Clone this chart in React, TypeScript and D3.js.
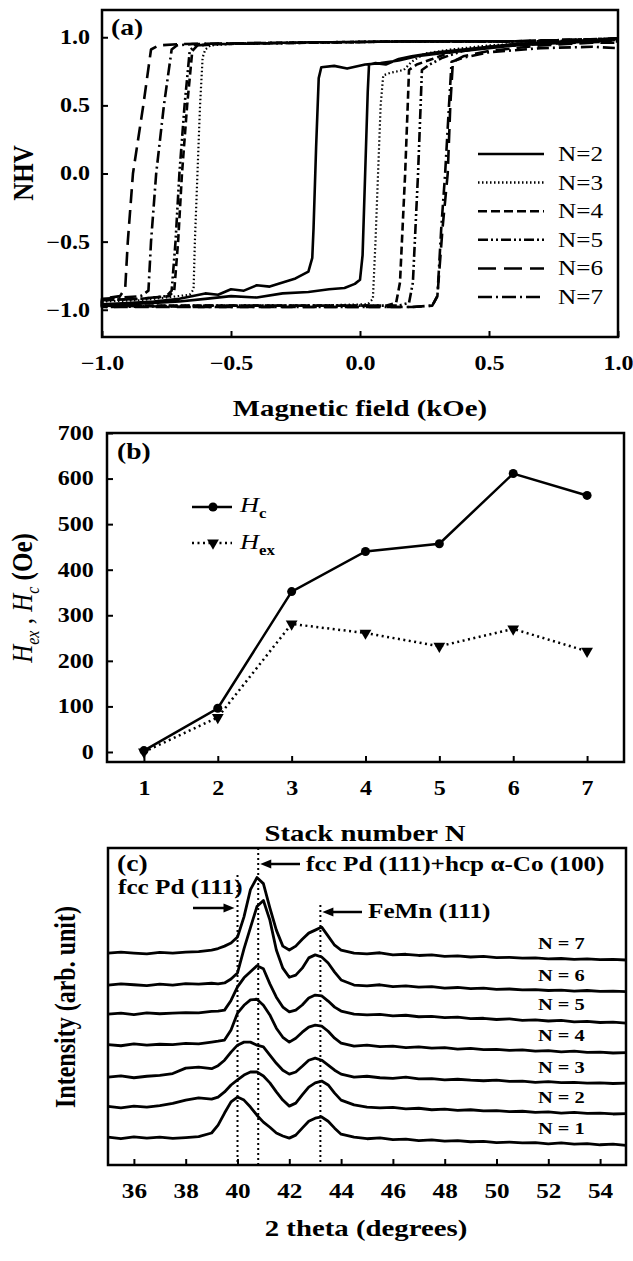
import React, { useEffect, useRef } from 'react';
import * as d3 from 'd3';

// (a) hysteresis loops, points are [field (kOe), NHV]; down = field sweeping 1 -> -1, up = -1 -> 1
const loopNames = ['N=2', 'N=3', 'N=4', 'N=5', 'N=6', 'N=7'];
const loopN2Down = [[1.0, 0.99], [0.9, 0.97], [0.8, 0.96], [0.7, 0.95], [0.6, 0.94], [0.5, 0.92], [0.4, 0.9], [0.3, 0.88], [0.22, 0.86], [0.15, 0.83], [0.08, 0.81], [0.02, 0.8], [-0.05, 0.77], [-0.1, 0.79], [-0.15, 0.78], [-0.16, 0.7], [-0.17, 0.2], [-0.18, -0.4], [-0.185, -0.62], [-0.2, -0.72], [-0.25, -0.77], [-0.3, -0.8], [-0.35, -0.83], [-0.4, -0.82], [-0.45, -0.86], [-0.5, -0.85], [-0.55, -0.89], [-0.6, -0.88], [-0.7, -0.92], [-0.8, -0.94], [-0.9, -0.95], [-1.0, -0.96]];
const loopN2Up = [[-1.0, -0.97], [-0.9, -0.96], [-0.8, -0.95], [-0.7, -0.94], [-0.6, -0.92], [-0.5, -0.9], [-0.4, -0.91], [-0.3, -0.88], [-0.2, -0.87], [-0.12, -0.85], [-0.06, -0.84], [-0.02, -0.81], [0.0, -0.78], [0.01, -0.6], [0.02, 0.0], [0.03, 0.6], [0.035, 0.8], [0.06, 0.81], [0.1, 0.8], [0.15, 0.84], [0.2, 0.86], [0.3, 0.89], [0.4, 0.91], [0.5, 0.93], [0.6, 0.95], [0.8, 0.97], [1.0, 0.99]];
const loopN3Down = [[1.0, 0.98], [0.6, 0.97], [0.2, 0.97], [-0.2, 0.96], [-0.5, 0.95], [-0.58, 0.94], [-0.6, 0.91], [-0.61, 0.85], [-0.62, 0.5], [-0.63, 0.0], [-0.64, -0.5], [-0.645, -0.85], [-0.66, -0.89], [-0.75, -0.91], [-0.85, -0.93], [-1.0, -0.94]];
const loopN3Up = [[-1.0, -0.97], [-0.6, -0.97], [-0.2, -0.97], [0.03, -0.96], [0.05, -0.92], [0.06, -0.5], [0.07, 0.0], [0.08, 0.5], [0.09, 0.72], [0.12, 0.74], [0.17, 0.76], [0.2, 0.82], [0.25, 0.88], [0.35, 0.91], [0.5, 0.94], [0.7, 0.96], [1.0, 0.98]];
const loopN4Down = [[1.0, 0.99], [0.6, 0.97], [0.2, 0.97], [-0.2, 0.96], [-0.55, 0.95], [-0.63, 0.94], [-0.65, 0.9], [-0.67, 0.5], [-0.69, 0.0], [-0.705, -0.5], [-0.72, -0.86], [-0.74, -0.9], [-0.85, -0.92], [-1.0, -0.93]];
const loopN4Up = [[-1.0, -0.97], [-0.6, -0.97], [-0.2, -0.97], [0.1, -0.97], [0.14, -0.95], [0.155, -0.8], [0.165, -0.4], [0.175, 0.0], [0.185, 0.5], [0.19, 0.76], [0.22, 0.8], [0.28, 0.84], [0.35, 0.89], [0.5, 0.93], [0.7, 0.95], [1.0, 0.97]];
const loopN5Down = [[1.0, 0.99], [0.6, 0.97], [0.2, 0.97], [-0.2, 0.96], [-0.55, 0.95], [-0.64, 0.94], [-0.66, 0.9], [-0.68, 0.5], [-0.7, 0.0], [-0.715, -0.5], [-0.73, -0.86], [-0.75, -0.9], [-0.85, -0.92], [-1.0, -0.93]];
const loopN5Up = [[-1.0, -0.98], [-0.6, -0.97], [-0.2, -0.97], [0.15, -0.97], [0.19, -0.95], [0.205, -0.8], [0.215, -0.4], [0.225, 0.0], [0.235, 0.5], [0.24, 0.76], [0.27, 0.8], [0.32, 0.85], [0.4, 0.9], [0.55, 0.94], [0.75, 0.96], [1.0, 0.98]];
const loopN6Down = [[1.0, 0.99], [0.6, 0.97], [0.2, 0.97], [-0.3, 0.96], [-0.7, 0.95], [-0.78, 0.94], [-0.81, 0.91], [-0.84, 0.5], [-0.88, 0.0], [-0.9, -0.5], [-0.91, -0.84], [-0.93, -0.9], [-1.0, -0.92]];
const loopN6Up = [[-1.0, -0.98], [-0.6, -0.98], [-0.2, -0.98], [0.2, -0.98], [0.28, -0.97], [0.3, -0.9], [0.32, -0.4], [0.34, 0.0], [0.35, 0.5], [0.36, 0.82], [0.4, 0.86], [0.5, 0.9], [0.7, 0.94], [0.9, 0.96], [1.0, 0.96]];
const loopN7Down = [[1.0, 0.99], [0.6, 0.97], [0.2, 0.97], [-0.3, 0.96], [-0.65, 0.95], [-0.71, 0.94], [-0.73, 0.91], [-0.76, 0.5], [-0.79, 0.0], [-0.81, -0.5], [-0.82, -0.86], [-0.85, -0.9], [-1.0, -0.92]];
const loopN7Up = [[-1.0, -0.97], [-0.6, -0.98], [-0.2, -0.98], [0.2, -0.98], [0.28, -0.97], [0.3, -0.9], [0.315, -0.4], [0.33, 0.0], [0.345, 0.5], [0.355, 0.82], [0.4, 0.85], [0.5, 0.89], [0.7, 0.92], [0.9, 0.93], [1.0, 0.92]];
const fieldTicks = [-1, -0.5, 0, 0.5, 1];
const nhvTicks = [-1, -0.5, 0, 0.5, 1];

// (b) coercivity and exchange bias vs stack number
const stackN = [1, 2, 3, 4, 5, 6, 7];
const hcValues = [3, 96, 352, 440, 457, 611, 563];
const hexValues = [0, 76, 281, 261, 232, 270, 221];
const oeTicks = [0, 100, 200, 300, 400, 500, 600, 700];

// (c) XRD scans, intensity above each trace's own baseline (arb. unit)
const twoTheta = [35, 35.5, 36, 36.5, 37, 37.5, 38, 38.5, 39, 39.25, 39.5, 39.75, 40, 40.25, 40.5, 40.75, 41, 41.25, 41.5, 41.75, 42, 42.25, 42.5, 42.75, 43, 43.25, 43.5, 43.75, 44, 44.5, 45, 45.5, 46, 46.5, 47, 47.5, 48, 48.5, 49, 49.5, 50, 50.5, 51, 51.5, 52, 52.5, 53, 53.5, 54, 54.5, 55];
const xrdNames = ['N = 1', 'N = 2', 'N = 3', 'N = 4', 'N = 5', 'N = 6', 'N = 7'];
const xrdOffsets = [8.9, 19.2, 29.1, 39.7, 50.0, 59.6, 70.2];
const xrdN1 = [0.3, -0.2, 0.4, 0.0, 0.3, -0.1, 0.2, 0.5, 1.7, 4.3, 8.3, 12.0, 13.6, 12.6, 10.3, 7.6, 5.3, 3.6, 1.7, 0.7, 0.0, 1.0, 3.3, 5.6, 6.6, 7.0, 5.6, 3.3, 1.3, 0.3, -0.2, 0.1, -0.5, -0.3, -0.8, -0.6, -1.0, -0.8, -1.2, -1.1, -1.5, -1.3, -1.6, -1.5, -1.9, -1.6, -2.0, -1.8, -2.2, -2.0, -2.4];
const xrdN2 = [0.2, -0.3, 0.3, 0.0, 0.5, 1.2, 2.3, 3.0, 2.6, 3.3, 5.0, 7.3, 9.0, 10.6, 11.6, 11.6, 10.3, 8.0, 5.0, 2.3, 0.3, 1.3, 4.0, 6.6, 8.0, 8.6, 7.3, 4.6, 2.3, 0.7, 0.0, -0.3, -0.1, -0.6, -0.4, -0.9, -0.7, -1.1, -0.9, -1.3, -1.2, -1.5, -1.4, -1.8, -1.6, -2.0, -1.8, -2.1, -2.0, -2.3, -2.2];
const xrdN3 = [0.0, 0.4, -0.2, 0.3, 0.6, 1.2, 3.0, 3.3, 2.8, 3.8, 5.6, 8.3, 10.6, 11.6, 11.6, 10.6, 10.0, 7.3, 4.6, 2.3, 1.0, 1.7, 3.6, 5.6, 6.3, 5.6, 4.0, 2.3, 1.0, 0.0, 0.3, -0.2, -0.4, 0.0, -0.6, -0.5, -0.9, -0.7, -1.0, -1.2, -1.0, -1.4, -1.3, -1.7, -1.5, -1.8, -1.7, -2.0, -1.9, -2.1, -2.0];
const xrdN4 = [0.2, -0.2, 0.4, 0.0, 0.3, 0.2, 0.6, 0.4, 1.0, 1.3, 1.7, 5.0, 10.6, 13.2, 15.0, 15.2, 13.2, 10.0, 5.6, 2.6, 1.0, 2.3, 4.3, 6.0, 6.6, 6.3, 4.6, 2.3, 0.7, -0.3, 0.0, -0.5, -0.3, -0.8, -0.6, -1.0, -0.8, -1.3, -1.1, -1.5, -1.4, -1.7, -1.6, -2.0, -1.8, -2.2, -2.0, -2.4, -2.3, -2.6, -2.5];
const xrdN5 = [0.0, 0.3, -0.2, 0.4, 0.1, 0.3, 0.5, 0.4, 0.9, 1.0, 1.3, 4.5, 9.0, 12.0, 14.0, 16.0, 15.0, 10.0, 5.6, 2.3, 0.7, 1.3, 3.0, 5.3, 6.3, 6.0, 4.3, 2.3, 1.0, 0.0, -0.3, -0.1, -0.6, -0.4, -0.9, -0.8, -1.2, -1.0, -1.5, -1.4, -1.8, -1.6, -2.1, -1.9, -2.3, -2.1, -2.6, -2.4, -2.8, -2.7, -3.0];
const xrdN6 = [0.0, 0.4, 0.1, -0.2, 0.3, 0.0, 0.5, 0.3, 0.6, 0.4, 0.7, 2.0, 4.0, 12.0, 19.0, 26.0, 28.0, 21.5, 11.6, 5.6, 2.6, 3.3, 5.6, 9.0, 10.0, 9.3, 7.3, 4.3, 1.7, 0.0, -0.3, 0.1, -0.5, -0.3, -0.7, -0.5, -1.0, -0.8, -1.2, -1.0, -1.4, -1.3, -1.6, -1.5, -1.8, -1.7, -2.0, -1.8, -2.1, -2.0, -2.2];
const xrdN7 = [0.0, 0.3, 0.0, -0.3, 0.2, 0.0, 0.3, 0.5, 1.0, 1.5, 2.3, 3.3, 5.3, 12.0, 21.0, 25.0, 23.0, 15.0, 7.6, 2.3, 1.0, 2.3, 4.6, 6.6, 7.6, 8.6, 5.6, 2.6, 1.0, 0.0, -0.3, 0.1, -0.6, -0.4, -0.8, -0.6, -1.1, -0.9, -1.3, -1.1, -1.5, -1.4, -1.7, -1.6, -1.9, -1.8, -2.1, -1.9, -2.2, -2.1, -2.3];
const peakLines = [40.0, 40.8, 43.2];
const thetaTicks = [36, 38, 40, 42, 44, 46, 48, 50, 52, 54];

const FONT = '"Liberation Serif", "Times New Roman", serif';
const SX = 1.2; // the original figure is stretched sideways

const loopDashes = ['', '1.5,2.5', '8,4', '10,3,2,3,2,3', '14,7', '12,4,2,4'];
const legendDashes = ['', '1.5,2.5', '9,4', '10,3,2,3,2,3', '18,8', '14,4,2,4'];

const App = () => {
    const ref = useRef<SVGSVGElement>(null);

    useEffect(() => {
        const svg = d3.select(ref.current);
        svg.selectAll('*').remove();

        const text = (x: number, y: number, s: string, size: number, weight = 'bold', anchor = 'middle', rotated = false) =>
            svg.append('text')
                .attr('transform', rotated
                    ? `translate(${x},${y}) rotate(-90) scale(1,${SX})`
                    : `translate(${x},${y}) scale(${SX},1)`)
                .attr('text-anchor', anchor)
                .attr('font-family', FONT)
                .attr('font-size', size)
                .attr('font-weight', weight)
                .attr('fill', '#000')
                .text(s);

        const styleAxis = (g: any, size: number) => {
            g.select('.domain').remove();
            g.selectAll('line').attr('stroke', '#000').attr('stroke-width', 2);
            g.selectAll('text')
                .attr('font-family', FONT)
                .attr('font-size', size)
                .attr('font-weight', 'bold')
                .attr('fill', '#000')
                .attr('transform', `scale(${SX},1)`);
        };

        const frame = (x0: number, y0: number, x1: number, y1: number) =>
            svg.append('rect')
                .attr('x', x0).attr('y', y0)
                .attr('width', x1 - x0).attr('height', y1 - y0)
                .attr('fill', 'none').attr('stroke', '#000').attr('stroke-width', 2.5);

        // ---------------- (a)
        const xA = d3.scaleLinear().domain([-1, 1]).range([102, 618]);
        const yA = d3.scaleLinear().domain([-1.2, 1.2]).range([337, 10]);

        svg.append('g').attr('transform', 'translate(0,337)')
            .call(d3.axisBottom(xA).tickValues(fieldTicks).tickFormat(d3.format('.1f')).tickSizeInner(-6).tickSizeOuter(0).tickPadding(19))
            .call(g => styleAxis(g, 20));
        svg.append('g').attr('transform', 'translate(102,0)')
            .call(d3.axisLeft(yA).tickValues(nhvTicks).tickFormat(d3.format('.1f')).tickSizeInner(-6).tickSizeOuter(0).tickPadding(10))
            .call(g => styleAxis(g, 20));

        const loops = [
            [loopN2Down, loopN2Up], [loopN3Down, loopN3Up], [loopN4Down, loopN4Up],
            [loopN5Down, loopN5Up], [loopN6Down, loopN6Up], [loopN7Down, loopN7Up],
        ];
        const loopLine = d3.line<number[]>().x(d => xA(d[0])).y(d => yA(d[1]));
        loops.forEach((lp, i) => {
            svg.append('path')
                .attr('d', loopLine([...lp[0], ...lp[1]]))
                .attr('fill', 'none')
                .attr('stroke', '#000')
                .attr('stroke-width', i === 1 ? 2.2 : 2.6)
                .attr('stroke-linejoin', 'round')
                .attr('stroke-dasharray', loopDashes[i] || null);
        });

        loopNames.forEach((name, i) => {
            const y = 154 + i * 28.6;
            svg.append('line')
                .attr('x1', 478).attr('x2', 544).attr('y1', y).attr('y2', y)
                .attr('stroke', '#000').attr('stroke-width', 2.5)
                .attr('stroke-dasharray', legendDashes[i] || null);
            text(558, y + 7, name, 21, 'normal', 'start');
        });

        frame(102, 10, 618, 337);
        text(111, 35, '(a)', 23, 'bold', 'start');
        text(360, 416, 'Magnetic field (kOe)', 24);
        text(33, 173, 'NHV', 25, 'bold', 'middle', true);

        // ---------------- (b)
        const xB = d3.scaleLinear().domain([0.5, 7.5]).range([107, 624]);
        const yB = d3.scaleLinear().domain([-22, 700]).range([762, 433]);

        svg.append('g').attr('transform', 'translate(0,762)')
            .call(d3.axisBottom(xB).tickValues(stackN).tickFormat(d3.format('d')).tickSizeInner(-6).tickSizeOuter(0).tickPadding(19))
            .call(g => styleAxis(g, 20));
        svg.append('g').attr('transform', 'translate(107,0)')
            .call(d3.axisLeft(yB).tickValues(oeTicks).tickFormat(d3.format('d')).tickSizeInner(-6).tickSizeOuter(0).tickPadding(11))
            .call(g => styleAxis(g, 20));

        const hcLine = d3.line<number>().x((d, i) => xB(stackN[i])).y(d => yB(d));
        svg.append('path').attr('d', hcLine(hexValues))
            .attr('fill', 'none').attr('stroke', '#000').attr('stroke-width', 2.5).attr('stroke-dasharray', '2,3.5');
        svg.append('path').attr('d', hcLine(hcValues))
            .attr('fill', 'none').attr('stroke', '#000').attr('stroke-width', 2.5);

        const tri = d3.symbol().type(d3.symbolTriangle).size(60);
        svg.append('g').selectAll('path').data(hexValues).enter().append('path')
            .attr('d', tri)
            .attr('transform', (d, i) => `translate(${xB(stackN[i])},${yB(d)}) rotate(180)`)
            .attr('fill', '#000');
        svg.append('g').selectAll('circle').data(hcValues).enter().append('circle')
            .attr('cx', (d, i) => xB(stackN[i])).attr('cy', d => yB(d)).attr('r', 4.5)
            .attr('fill', '#000');

        // legend (b)
        svg.append('line').attr('x1', 192).attr('x2', 232).attr('y1', 507).attr('y2', 507)
            .attr('stroke', '#000').attr('stroke-width', 2.5);
        svg.append('circle').attr('cx', 213).attr('cy', 507).attr('r', 4.5).attr('fill', '#000');
        svg.append('line').attr('x1', 192).attr('x2', 232).attr('y1', 543).attr('y2', 543)
            .attr('stroke', '#000').attr('stroke-width', 2.5).attr('stroke-dasharray', '2,3.5');
        svg.append('path').attr('d', tri).attr('transform', 'translate(213,543) rotate(180)').attr('fill', '#000');

        const hLabel = (y: number, sub: string) => {
            const t = text(240, y, '', 22, 'normal', 'start');
            t.append('tspan').attr('font-style', 'italic').text('H');
            t.append('tspan').attr('font-size', 14).attr('font-weight', 'bold').attr('dy', 6).text(sub);
        };
        hLabel(512, 'c');
        hLabel(549, 'ex');

        frame(107, 433, 624, 762);
        text(117, 459, '(b)', 23, 'bold', 'start');
        text(365, 841, 'Stack number N', 24);

        const yl = text(32, 598, '', 25, 'normal', 'middle', true);
        yl.append('tspan').attr('font-style', 'italic').text('H');
        yl.append('tspan').attr('font-style', 'italic').attr('font-size', 16).attr('dy', 6).text('ex');
        yl.append('tspan').attr('dy', -6).text(' , ');
        yl.append('tspan').attr('font-style', 'italic').text('H');
        yl.append('tspan').attr('font-style', 'italic').attr('font-size', 16).attr('dy', 6).text('c');
        yl.append('tspan').attr('dy', -6).attr('font-weight', 'bold').text(' (Oe)');

        // ---------------- (c)
        const xC = d3.scaleLinear().domain([35, 55]).range([108, 626]);
        const yC = d3.scaleLinear().domain([0, 105]).range([1165, 848]);

        svg.append('g').attr('transform', 'translate(0,1165)')
            .call(d3.axisBottom(xC).tickValues(thetaTicks).tickFormat(d3.format('d')).tickSizeInner(-6).tickSizeOuter(0).tickPadding(18))
            .call(g => styleAxis(g, 21));

        const traces = [xrdN1, xrdN2, xrdN3, xrdN4, xrdN5, xrdN6, xrdN7];
        traces.forEach((tr, k) => {
            const ln = d3.line<number>().x((d, i) => xC(twoTheta[i])).y(d => yC(d + xrdOffsets[k]));
            svg.append('path').attr('d', ln(tr))
                .attr('fill', 'none').attr('stroke', '#000').attr('stroke-width', 2.8)
                .attr('stroke-linejoin', 'round');
            text(538, yC(xrdOffsets[k]) - 4, xrdNames[k], 17, 'bold', 'start');
        });

        const lineTops = [875, 848, 905];
        peakLines.forEach((p, i) => {
            svg.append('line')
                .attr('x1', xC(p)).attr('x2', xC(p)).attr('y1', lineTops[i]).attr('y2', 1165)
                .attr('stroke', '#000').attr('stroke-width', 2).attr('stroke-dasharray', '2,3');
        });

        const arrow = (x1: number, x2: number, y: number) => {
            svg.append('line').attr('x1', x1).attr('x2', x2 + (x2 > x1 ? -8 : 8)).attr('y1', y).attr('y2', y)
                .attr('stroke', '#000').attr('stroke-width', 2.5);
            const d = x2 > x1 ? -1 : 1;
            svg.append('path')
                .attr('d', `M${x2},${y} L${x2 + d * 11},${y - 4.5} L${x2 + d * 11},${y + 4.5} Z`)
                .attr('fill', '#000');
        };
        arrow(300, xC(40.8) + 2, 864);
        arrow(193, xC(40.0) - 3, 908);
        arrow(362, xC(43.2) + 2, 912);

        text(306, 871, 'fcc Pd (111)+hcp \u03b1-Co (100)', 21, 'bold', 'start');
        text(118, 894, 'fcc Pd (111)', 21, 'bold', 'start');
        text(368, 918, 'FeMn (111)', 21, 'bold', 'start');

        frame(108, 848, 626, 1165);
        text(117, 871, '(c)', 23, 'bold', 'start');
        text(366, 1236, '2 theta (degrees)', 24);
        text(75, 1007, 'Intensity (arb. unit)', 24, 'bold', 'middle', true);
    }, []);

    return (
        <svg ref={ref} width={633} height={1261}
            style={{ position: 'absolute', left: 0, top: 0, background: '#fff' }} />
    );
};

export default App;
